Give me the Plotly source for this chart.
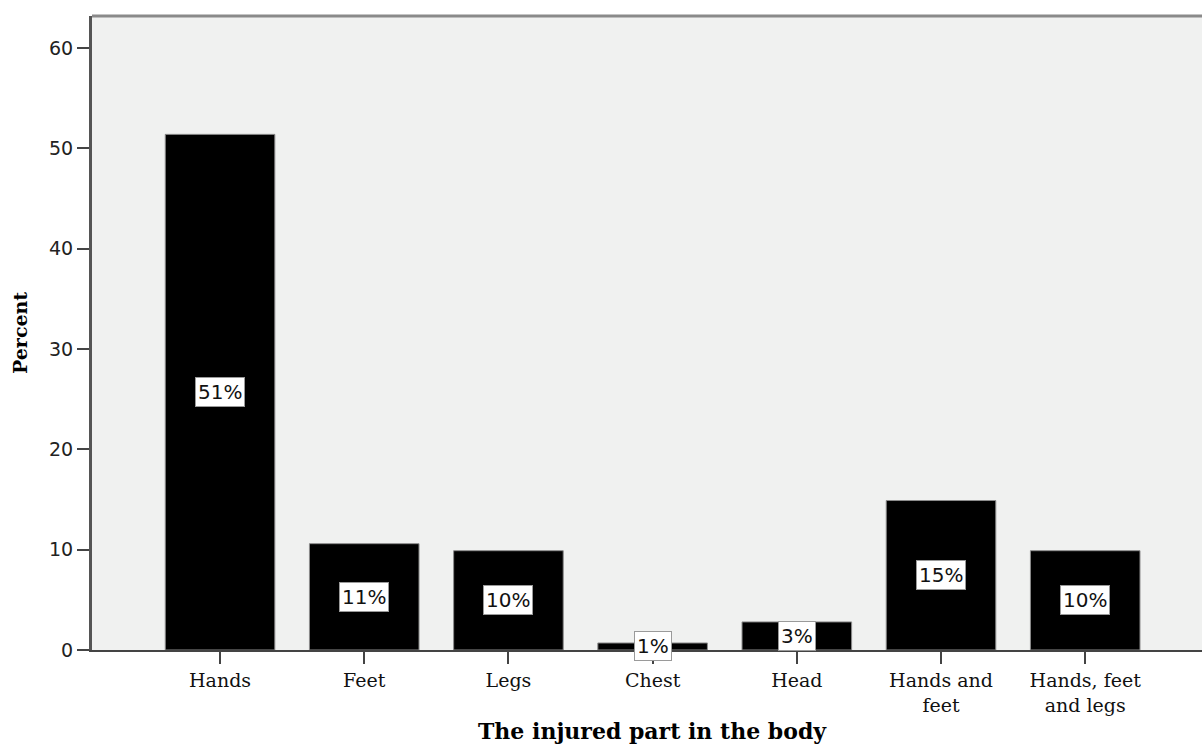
import plotly.graph_objects as go

# Share of injuries by body part (percent)
categories = ["Hands", "Feet", "Legs", "Chest", "Head", "Hands and<br>feet", "Hands, feet<br>and legs"]
percent = [51.4, 10.6, 9.9, 0.7, 2.8, 14.9, 9.9]
y_ticks = [0, 10, 20, 30, 40, 50, 60]

x_pos = list(range(len(categories)))

fig = go.Figure()
fig.add_trace(go.Bar(
    x=x_pos,
    y=percent,
    width=0.76,
    marker=dict(color="#000000", line=dict(color="#8c8c8c", width=1)),
    hoverinfo="skip",
))

# Value labels in white boxes, centred inside each bar
for xi, v in zip(x_pos, percent):
    fig.add_annotation(
        x=xi, y=v / 2, xref="x", yref="y",
        text=f"{v:.0f}%",
        showarrow=False,
        font=dict(family="DejaVu Sans", size=20, color="#111111"),
        bgcolor="#ffffff",
        bordercolor="#9a9a9a",
        borderwidth=1,
        borderpad=2,
    )

# Axis titles
fig.add_annotation(
    text="<b>Percent</b>", xref="paper", yref="paper", x=0, y=0.5,
    xanchor="center", yanchor="middle",
    xshift=-72, textangle=-90, showarrow=False,
    font=dict(family="DejaVu Serif", size=19, color="#000000"),
)
fig.add_annotation(
    text="<b>The injured part in the body</b>", xref="paper", yref="paper",
    x=(652 - 92) / (1202 - 92), y=0, xanchor="center", yanchor="middle",
    yshift=-81, showarrow=False,
    font=dict(family="DejaVu Serif", size=22, color="#000000"),
)

# Top frame line
fig.add_shape(
    type="line", xref="paper", yref="paper", x0=0, x1=1, y0=1, y1=1,
    line=dict(color="#8a8a8a", width=3),
)

fig.update_layout(
    width=1202,
    height=746,
    margin=dict(l=92, r=0, t=16, b=96),
    paper_bgcolor="#ffffff",
    plot_bgcolor="#f0f1f0",
    showlegend=False,
)
fig.update_xaxes(
    range=[-0.888, 6.81],
    tickvals=x_pos,
    ticktext=categories,
    ticks="outside", ticklen=12, tickwidth=2, tickcolor="#444444",
    showline=True, linecolor="#444444", linewidth=2,
    showgrid=False, zeroline=False,
    tickfont=dict(family="DejaVu Serif", size=19, color="#111111"),
)
fig.update_yaxes(
    range=[0, 63.2],
    tickvals=y_ticks,
    ticks="outside", ticklen=12, tickwidth=2, tickcolor="#444444",
    showline=True, linecolor="#555555", linewidth=3,
    showgrid=False, zeroline=False,
    tickfont=dict(family="DejaVu Sans", size=19, color="#222222"),
)

fig.write_html("out.html")
